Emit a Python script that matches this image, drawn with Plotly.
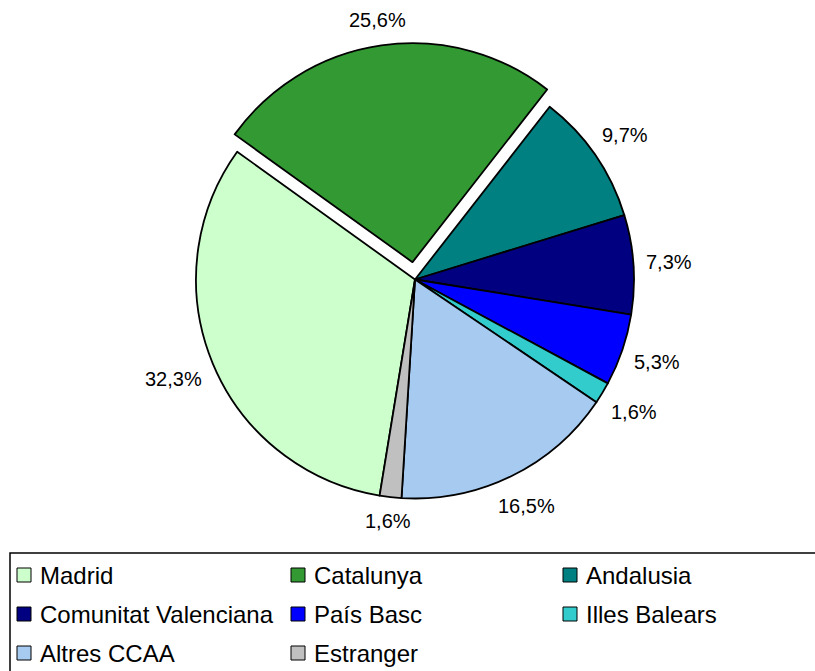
import math
import plotly.graph_objects as go

labels = ["Madrid", "Catalunya", "Andalusia", "Comunitat Valenciana", "País Basc",
          "Illes Balears", "Altres CCAA", "Estranger"]
values = [32.3, 25.6, 9.7, 7.3, 5.3, 1.6, 16.5, 1.6]
colors = ["#CCFFCC", "#339933", "#008080", "#000080", "#0000FF",
          "#33CCCC", "#A6CAF0", "#C0C0C0"]
pulls = [0, 0.08, 0, 0, 0, 0, 0, 0]
text_labels = [f"{v:.1f}%".replace(".", ",") for v in values]

W, H = 815, 671
FONT = "Liberation Sans, Arial, sans-serif"
ROTATION = 189.3
LABEL_SIZE = 20
LEGEND_SIZE = 24

# pie geometry (pixels)
CX, CY, HALF = 415, 279.5, 236.5
dom_x = [(CX - HALF) / W, (CX + HALF) / W]
dom_y = [1 - (CY + HALF) / H, 1 - (CY - HALF) / H]
R = HALF / (1 + max(pulls))

fig = go.Figure(go.Pie(
    labels=labels, values=values, sort=False, direction="clockwise",
    rotation=ROTATION, pull=pulls,
    marker=dict(colors=colors, line=dict(color="black", width=1.8)),
    textinfo="none", domain=dict(x=dom_x, y=dom_y),
    showlegend=False, hoverinfo="label+value",
))

# data labels placed outside each slice at its mid-angle
CHAR_W = {",": 0.278, "%": 0.889}
def text_w(s, size):
    return sum(CHAR_W.get(ch, 0.556) for ch in s) * size

annotations = []
total = sum(values)
start = ROTATION
for v, t, p in zip(values, text_labels, pulls):
    span = v / total * 360
    mid = math.radians(start + span / 2)
    start += span
    ux, uy = math.sin(mid), -math.cos(mid)
    ox, oy = CX + p * R * ux, CY + p * R * uy
    hw, hh = text_w(t, LABEL_SIZE) / 2, LABEL_SIZE / 2
    dist = R + 12 + hw * abs(ux) + hh * abs(uy)
    px, py = ox + dist * ux, oy + dist * uy
    annotations.append(dict(xref="paper", yref="paper", x=px / W, y=1 - py / H,
                            xanchor="center", yanchor="middle", text=t, showarrow=False,
                            font=dict(family=FONT, size=LABEL_SIZE, color="black")))

# manual legend (3 columns x 3 rows)
col_x = [17, 291, 563]
row_y = [575, 614, 653]
sw = 14
shapes = [dict(type="rect", xref="paper", yref="paper",
               x0=10 / W, x1=840 / W, y0=1 - 700 / H, y1=1 - 553 / H,
               line=dict(color="black", width=1.5), fillcolor="rgba(0,0,0,0)")]
for i, (lab, col) in enumerate(zip(labels, colors)):
    r, c = divmod(i, 3)
    x, y = col_x[c], row_y[r]
    shapes.append(dict(type="rect", xref="paper", yref="paper",
                       x0=x / W, x1=(x + sw) / W, y0=1 - (y + sw / 2) / H, y1=1 - (y - sw / 2) / H,
                       line=dict(color="black", width=1), fillcolor=col))
    annotations.append(dict(xref="paper", yref="paper", x=(x + sw + 7) / W, y=1 - y / H,
                            xanchor="left", yanchor="middle", text=lab, showarrow=False,
                            font=dict(family=FONT, size=LEGEND_SIZE, color="black")))

fig.update_layout(
    width=W, height=H, margin=dict(l=0, r=0, t=0, b=0),
    paper_bgcolor="white", plot_bgcolor="white",
    shapes=shapes, annotations=annotations,
)
fig.write_html("out.html", config={"displayModeBar": False},
               post_script="document.body.style.margin='0';document.body.style.overflow='hidden';")
